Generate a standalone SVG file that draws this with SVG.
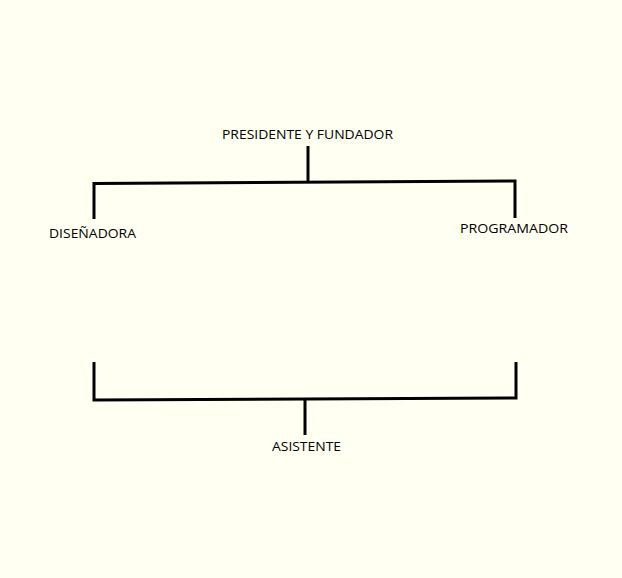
<svg xmlns="http://www.w3.org/2000/svg" width="622" height="578" viewBox="0 0 622 578">
<style>
.bg{fill:#fffff2}
.ln{stroke:#000;stroke-width:3;fill:none;stroke-linecap:butt;stroke-linejoin:miter}
.lbl{font-family:"Open Sans","Liberation Sans",sans-serif;font-size:13.5px;fill:#000;text-anchor:middle}
</style>
<rect class="bg" x="0" y="0" width="622" height="578"/>
<g id="connectors">
<path class="ln" d="M308,146 V182.5"/>
<path class="ln" d="M94,219 V183.5 L515,181 V218"/>
<path class="ln" d="M94,362 V400 L516,398 V362"/>
<path class="ln" d="M305,399 V435"/>
</g>
<g id="presidente"><text class="lbl" x="307.5" y="139" textLength="171" lengthAdjust="spacingAndGlyphs">PRESIDENTE Y FUNDADOR</text></g>
<g id="disenadora"><text class="lbl" x="92.5" y="238" textLength="87" lengthAdjust="spacingAndGlyphs">DISEÑADORA</text></g>
<g id="programador"><text class="lbl" x="514" y="233" textLength="108" lengthAdjust="spacingAndGlyphs">PROGRAMADOR</text></g>
<g id="asistente"><text class="lbl" x="306.5" y="451" textLength="69" lengthAdjust="spacingAndGlyphs">ASISTENTE</text></g>
</svg>
